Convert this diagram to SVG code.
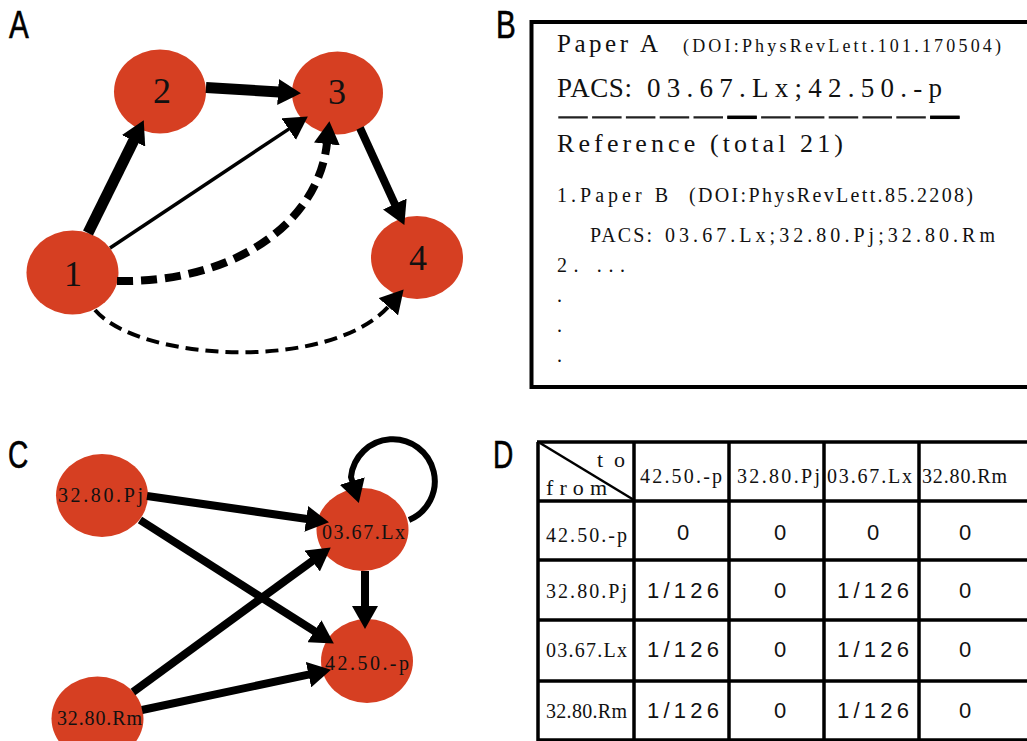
<svg xmlns="http://www.w3.org/2000/svg" width="1027" height="741" viewBox="0 0 1027 741">
  <style>
    .node { fill: #D63F22; }
    .panel { font-family: "Liberation Sans", Arial, sans-serif; font-size: 38px; fill: #000; stroke: #000; stroke-width: 0.6; }
    .num { font-family: "Liberation Serif", "Times New Roman", serif; font-size: 36px; fill: #111; text-anchor: middle; }
    .ser { font-family: "Liberation Serif", "Times New Roman", serif; fill: #111; }
    .tag { font-family: "Liberation Serif", "Times New Roman", serif; font-size: 20px; fill: #111; }
    .val { font-family: "Liberation Sans", Arial, sans-serif; font-size: 22px; fill: #111; text-anchor: middle; }
    .edge { fill: none; stroke: #000; marker-end: url(#head); }
    .grid { stroke: #000; stroke-width: 3.5; fill: none; }
  </style>
  <defs>
    <marker id="head" markerUnits="userSpaceOnUse" markerWidth="23" markerHeight="26" viewBox="0 0 23 26" refX="1" refY="13" orient="auto">
      <path d="M0,0 L23,13 L0,26 z" fill="#000"/>
    </marker>
  </defs>
  <rect width="1027" height="741" fill="#fff"/>

  <!-- panel letters -->
  <g id="panel-labels">
    <text class="panel" transform="translate(9,38) scale(0.78,1)">A</text>
    <text class="panel" transform="translate(496,38) scale(0.78,1)">B</text>
    <text class="panel" transform="translate(8,468) scale(0.74,1)">C</text>
    <text class="panel" transform="translate(493,468) scale(0.74,1)">D</text>
  </g>

  <!-- ===== A: four-node network ===== -->
  <g id="a-node-1"><ellipse class="node" cx="72.5" cy="272.5" rx="46" ry="42"/><text class="num" x="73" y="286">1</text></g>
  <g id="a-node-2"><ellipse class="node" cx="160" cy="91.5" rx="46" ry="42"/><text class="num" x="162" y="103">2</text></g>
  <g id="a-node-3"><ellipse class="node" cx="337.5" cy="93" rx="45.5" ry="41.5"/><text class="num" x="337" y="104">3</text></g>
  <g id="a-node-4"><ellipse class="node" cx="417" cy="257.5" rx="46" ry="41.5"/><text class="num" x="418" y="270">4</text></g>

  <g id="a-connectors">
    <line class="edge" x1="88" y1="233" x2="134" y2="140" stroke-width="11"/>
    <line class="edge" x1="206" y1="87.5" x2="279" y2="92" stroke-width="11"/>
    <line class="edge" x1="110" y1="248" x2="289.5" y2="128.6" stroke-width="3.5"/>
    <line class="edge" x1="360" y1="128" x2="395.2" y2="204.9" stroke-width="8"/>
    <path class="edge" d="M117,281 C232,283 318,225 327,143" stroke-width="8" stroke-dasharray="16 8"/>
    <path class="edge" d="M95,310 C140,362 330,372 389,306" stroke-width="4" stroke-dasharray="13 7"/>
  </g>

  <!-- ===== B: record card ===== -->
  <g id="b-card">
    <rect x="531.5" y="22" width="520" height="365" fill="none" stroke="#000" stroke-width="4"/>
    <text class="ser" font-size="25" x="557" y="52" textLength="101" lengthAdjust="spacing">Paper A</text>
    <text class="ser" font-size="18" x="683" y="52" textLength="318" lengthAdjust="spacing">(DOI:PhysRevLett.101.170504)</text>
    <text class="ser" font-size="27" y="97"><tspan x="557" textLength="75" lengthAdjust="spacing">PACS:</tspan><tspan x="647" textLength="295" lengthAdjust="spacing">03.67.Lx;42.50.-p</tspan></text>
    <line x1="558.3" y1="117.3" x2="959.6" y2="117.3" stroke="#222" stroke-width="2.2" stroke-dasharray="29.5 4.3"/>
    <line x1="727.3" y1="117.3" x2="756.8" y2="117.3" stroke="#000" stroke-width="3.5"/>
    <line x1="930.1" y1="117.3" x2="959.6" y2="117.3" stroke="#000" stroke-width="3.5"/>
    <text class="ser" font-size="26" x="557" y="152" textLength="286" lengthAdjust="spacing">Reference (total 21)</text>
    <text class="ser" font-size="20" x="557" y="202" textLength="111" lengthAdjust="spacing">1.Paper B</text>
    <text class="ser" font-size="20" x="689" y="202" textLength="284" lengthAdjust="spacing">(DOI:PhysRevLett.85.2208)</text>
    <text class="ser" font-size="20" y="242"><tspan x="590" textLength="62" lengthAdjust="spacing">PACS:</tspan><tspan x="665" textLength="330" lengthAdjust="spacing">03.67.Lx;32.80.Pj;32.80.Rm</tspan></text>
    <text class="ser" font-size="20" x="557" y="272" textLength="68" lengthAdjust="spacing">2. ...</text>
    <text class="ser" font-size="20" x="557" y="302">.</text>
    <text class="ser" font-size="20" x="557" y="332">.</text>
    <text class="ser" font-size="20" x="557" y="362">.</text>
  </g>

  <!-- ===== C: PACS network ===== -->
  <g id="c-node-pj"><ellipse class="node" cx="102" cy="495.5" rx="46" ry="41.5"/><text class="tag" x="58" y="502" textLength="85" lengthAdjust="spacing">32.80.Pj</text></g>
  <g id="c-node-lx"><ellipse class="node" cx="362.5" cy="529.5" rx="46" ry="41.5"/><text class="tag" x="322" y="539" textLength="83" lengthAdjust="spacing">03.67.Lx</text></g>
  <g id="c-node-p"><ellipse class="node" cx="367" cy="661" rx="46" ry="42"/><text class="tag" x="325" y="670" textLength="84" lengthAdjust="spacing">42.50.-p</text></g>
  <g id="c-node-rm"><ellipse class="node" cx="97.5" cy="718.5" rx="46" ry="42"/><text class="tag" x="57" y="725" textLength="85" lengthAdjust="spacing">32.80.Rm</text></g>

  <g id="c-connectors">
    <line class="edge" x1="147" y1="496" x2="307.2" y2="519" stroke-width="8"/>
    <line class="edge" x1="140" y1="520" x2="315.3" y2="631.7" stroke-width="8"/>
    <line class="edge" x1="133" y1="692" x2="313" y2="560.4" stroke-width="8"/>
    <line class="edge" x1="142" y1="710" x2="309.5" y2="674.4" stroke-width="8"/>
    <line class="edge" x1="365" y1="571" x2="365" y2="607" stroke-width="8"/>
    <path class="edge" d="M409,520 A42,42 0 1,0 351,477 L352.5,482" stroke-width="6"/>
  </g>

  <!-- ===== D: transition table ===== -->
  <g id="d-table">
    <line class="grid" x1="538" y1="442" x2="538" y2="741" stroke-width="2.5"/>
    <line class="grid" x1="634" y1="442" x2="634" y2="741"/>
    <line class="grid" x1="729" y1="442" x2="729" y2="741"/>
    <line class="grid" x1="824" y1="442" x2="824" y2="741"/>
    <line class="grid" x1="919" y1="442" x2="919" y2="741"/>
    <line class="grid" x1="537" y1="442" x2="1030" y2="442" stroke-width="3"/>
    <line class="grid" x1="537" y1="501" x2="1030" y2="501"/>
    <line class="grid" x1="537" y1="560" x2="1030" y2="560"/>
    <line class="grid" x1="537" y1="620" x2="1030" y2="620"/>
    <line class="grid" x1="537" y1="681" x2="1030" y2="681"/>
    <line class="grid" x1="537" y1="740" x2="1030" y2="740"/>
    <line x1="540" y1="443" x2="634" y2="500" stroke="#000" stroke-width="2.5"/>

    <text class="ser" font-size="22" x="597" y="467" textLength="28" lengthAdjust="spacing">to</text>
    <text class="ser" font-size="22" x="546" y="495" textLength="61" lengthAdjust="spacing">from</text>

    <text class="tag" x="640" y="483" textLength="82" lengthAdjust="spacing">42.50.-p</text>
    <text class="tag" x="737" y="483" textLength="83" lengthAdjust="spacing">32.80.Pj</text>
    <text class="tag" x="827" y="483" textLength="85" lengthAdjust="spacing">03.67.Lx</text>
    <text class="tag" x="922" y="483" textLength="85" lengthAdjust="spacing">32.80.Rm</text>

    <text class="tag" x="546" y="542" textLength="81" lengthAdjust="spacing">42.50.-p</text>
    <text class="tag" x="546" y="598" textLength="81" lengthAdjust="spacing">32.80.Pj</text>
    <text class="tag" x="546" y="657" textLength="81" lengthAdjust="spacing">03.67.Lx</text>
    <text class="tag" x="546" y="718" textLength="81" lengthAdjust="spacing">32.80.Rm</text>

    <text class="val" x="683" y="540">0</text>
    <text class="val" x="780" y="540">0</text>
    <text class="val" x="873" y="540">0</text>
    <text class="val" x="965" y="540">0</text>

    <text class="val" x="683" y="598" textLength="72" lengthAdjust="spacing">1/126</text>
    <text class="val" x="780" y="598">0</text>
    <text class="val" x="873" y="598" textLength="72" lengthAdjust="spacing">1/126</text>
    <text class="val" x="965" y="598">0</text>

    <text class="val" x="683" y="657" textLength="72" lengthAdjust="spacing">1/126</text>
    <text class="val" x="780" y="657">0</text>
    <text class="val" x="873" y="657" textLength="72" lengthAdjust="spacing">1/126</text>
    <text class="val" x="965" y="657">0</text>

    <text class="val" x="683" y="718" textLength="72" lengthAdjust="spacing">1/126</text>
    <text class="val" x="780" y="718">0</text>
    <text class="val" x="873" y="718" textLength="72" lengthAdjust="spacing">1/126</text>
    <text class="val" x="965" y="718">0</text>
  </g>
</svg>
